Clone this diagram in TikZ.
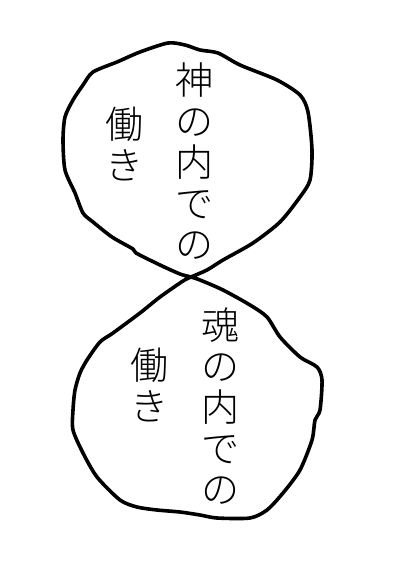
\documentclass[tikz,border=0pt]{standalone}
\usepackage{fontspec}
\newfontfamily\jpfont{Noto Sans CJK JP Light}
\begin{document}
\begin{tikzpicture}[x=1pt,y=-1pt,
  blob/.style={line width=3.6pt,line join=round,line cap=round,black},
  vtext/.style={inner sep=0pt,align=center,font=\jpfont\fontsize{38}{41}\selectfont}]
\useasboundingbox[fill=white] (0,0) rectangle (400,561);
\draw[blob] plot[smooth cycle,tension=0.45] coordinates {
 (160,297) (183,281) (191,277) (207,270) (223,260) (253,243) (280,222)
 (300,197) (310,180) (312,150) (308,112) (300,95) (277,80) (240,65)
 (218,53) (200,50) (185,45) (168,43) (140,52) (117,62) (93,72) (83,85)
 (73,100) (65,117) (63,140) (65,170) (75,193) (83,213) (93,222) (112,237)
 (133,249) (136,253) (160,265) (180,274) (191,277) (200,280) (223,290)
 (250,305) (267,317) (280,337) (300,357) (317,367) (322,380) (320,410)
 (315,420) (312,440) (300,470) (283,493) (267,510) (250,518) (217,518)
 (200,515) (180,512) (157,510) (137,507) (120,500) (97,477) (83,453)
 (73,430) (73,410) (75,390) (80,373) (87,360) (100,342) (113,333) (140,313)};
\node[vtext] (god) at (194,161) {神\\の\\内\\で\\の};
\node[vtext] (godw) at (124,144) {働\\き};
\node[vtext] (soul) at (220,406) {魂\\の\\内\\で\\の};
\node[vtext] (soulw) at (149,385) {働\\き};
\end{tikzpicture}
\end{document}
